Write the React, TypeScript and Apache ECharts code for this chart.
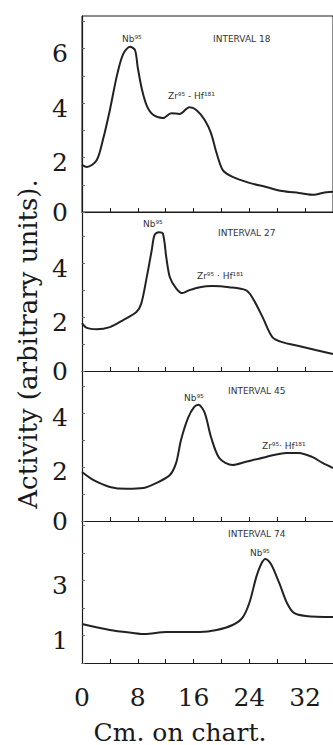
import React, { useEffect, useRef } from "react";
import * as echarts from "echarts";

// Cm. on chart vs activity (arbitrary units), one curve per counting interval
const interval18: number[][] = [
  [0, 1.73], [0.7, 1.65], [2.1, 1.9], [3, 2.65], [4, 3.75], [5, 5.0], [5.9, 5.8], [6.9, 6.07],
  [7.6, 5.95], [8, 5.3], [8.6, 4.5], [9.3, 3.9], [10.2, 3.57], [11.6, 3.45], [12.8, 3.63],
  [14, 3.6], [15.4, 3.85], [16.4, 3.75], [17.6, 3.38], [18.5, 2.9], [19.3, 2.17], [20.2, 1.54],
  [21.6, 1.29], [24, 1.07], [26.4, 0.92], [28.7, 0.77], [31.1, 0.7], [33.3, 0.63], [34.5, 0.7],
  [36, 0.74],
];
const interval27: number[][] = [
  [0, 1.78], [0.7, 1.6], [2.1, 1.55], [4, 1.63], [5.9, 1.89], [7.8, 2.19], [8.5, 2.5],
  [9.3, 3.5], [10, 4.48], [10.4, 5.04], [11, 5.15], [11.6, 5.1], [12.1, 4.2], [12.6, 3.48],
  [13.5, 3.07], [14.4, 2.89], [15.4, 3.0], [16.9, 3.11], [18.7, 3.15], [21.1, 3.11], [23.5, 3.0],
  [24.4, 2.74], [25.9, 2.0], [27.3, 1.26], [28.7, 1.07], [31.1, 0.93], [33.5, 0.78], [36, 0.63],
];
const interval45: number[][] = [
  [0, 1.81], [1.6, 1.52], [4, 1.26], [6.4, 1.19], [8.8, 1.22], [10.7, 1.41], [12.6, 1.7],
  [13.5, 2.15], [14.2, 3.0], [15.2, 3.81], [16.1, 4.22], [16.7, 4.3], [17.6, 4.0], [18.5, 3.11],
  [19.7, 2.33], [21.6, 2.07], [23.5, 2.19], [26.4, 2.37], [29.3, 2.52], [31.1, 2.52], [33, 2.37],
  [34.5, 2.15], [36, 1.96],
];
const interval74: number[][] = [
  [0, 1.42], [4, 1.2], [7.3, 1.09], [9, 1.05], [12.1, 1.13], [16.9, 1.13], [19.3, 1.2],
  [21.6, 1.38], [23, 1.64], [24, 2.18], [25, 3.13], [25.7, 3.6], [26.3, 3.78], [27.1, 3.6],
  [28.3, 2.9], [29.4, 2.18], [30.4, 1.82], [32.1, 1.71], [36, 1.67],
];

const xTickLabels = [0, 8, 16, 24, 32];
const yLabels18 = [0, 2, 4, 6];
const yLabels27 = [0, 2, 4];
const yLabels45 = [0, 2, 4];
const yLabels74 = [1, 3];
const yMax = [7.2, 5.9, 5.55, 5.16];

const panels = [
  { data: interval18, labels: yLabels18, top: 16, height: 196 },
  { data: interval27, labels: yLabels27, top: 212, height: 159 },
  { data: interval45, labels: yLabels45, top: 371, height: 150 },
  { data: interval74, labels: yLabels74, top: 521, height: 142 },
];

const notes = [
  { text: "Nb⁹⁵", x: 122, y: 34 },
  { text: "INTERVAL 18", x: 213, y: 34 },
  { text: "Zr⁹⁵ - Hf¹⁸¹", x: 168, y: 91 },
  { text: "Nb⁹⁵", x: 143, y: 219 },
  { text: "INTERVAL 27", x: 218, y: 228 },
  { text: "Zr⁹⁵ · Hf¹⁸¹", x: 197, y: 271 },
  { text: "Nb⁹⁵", x: 184, y: 393 },
  { text: "INTERVAL 45", x: 228, y: 386 },
  { text: "Zr⁹⁵· Hf¹⁸¹", x: 262, y: 441 },
  { text: "INTERVAL 74", x: 228, y: 529 },
  { text: "Nb⁹⁵", x: 250, y: 548 },
];

const SERIF = "'DejaVu Serif', 'Liberation Serif', serif";
const INK = "#1a1a1a";

export default function App() {
  const ref = useRef<HTMLDivElement>(null);
  useEffect(() => {
    if (!ref.current) return;
    const chart = echarts.init(ref.current, null, { renderer: "svg" });
    const grids = panels.map((p, i) => ({
      left: 82,
      top: p.top,
      width: 252,
      height: p.height,
      show: i === 0,
      borderColor: INK,
      borderWidth: 1,
    }));
    const xAxes = panels.map((p, i) => ({
      type: "value",
      gridIndex: i,
      min: 0,
      max: 36,
      interval: 4,
      axisLine: { show: true, onZero: false, lineStyle: { color: INK, width: 1.2 } },
      axisTick: { show: true, inside: true, length: 4, lineStyle: { color: INK } },
      splitLine: { show: false },
      axisLabel: {
        show: i === panels.length - 1,
        margin: 22,
        showMaxLabel: false,
        fontFamily: SERIF,
        fontSize: 25,
        color: INK,
        formatter: (v: number) => (xTickLabels.includes(v) ? String(v) : ""),
      },
    }));
    const yAxes = panels.map((p, i) => ({
      type: "value",
      gridIndex: i,
      min: 0,
      max: yMax[i],
      interval: 1,
      axisLine: { show: true, onZero: false, lineStyle: { color: INK, width: 1.2 } },
      axisTick: { show: true, inside: true, length: 3, lineStyle: { color: "#666" } },
      splitLine: { show: false },
      axisLabel: {
        margin: 14,
        showMaxLabel: false,
        formatter: (v: number) =>
          p.labels.includes(v) ? (v === 0 ? `{z|${v}}` : `{n|${v}}`) : "",
        rich: {
          z: { fontFamily: SERIF, fontSize: 25, color: INK },
          n: { fontFamily: SERIF, fontSize: 25, color: INK, padding: [10, 0, 0, 0] },
        },
      },
    }));
    const series = panels.map((p, i) => ({
      type: "line",
      xAxisIndex: i,
      yAxisIndex: i,
      data: p.data,
      smooth: 0.3,
      showSymbol: false,
      lineStyle: { color: "#222", width: 2 },
    }));
    const graphic: any[] = notes.map((n) => ({
      type: "text",
      x: n.x,
      y: n.y,
      style: { text: n.text, fill: "#333", font: "9px 'DejaVu Sans', sans-serif" },
    }));
    graphic.push({
      type: "text",
      x: 28,
      y: 344,
      rotation: Math.PI / 2,
      style: {
        text: "Activity (arbitrary units).",
        fill: INK,
        font: `26px ${SERIF}`,
        align: "center",
        verticalAlign: "middle",
      },
    });
    graphic.push({
      type: "text",
      x: 180,
      y: 732,
      style: {
        text: "Cm. on chart.",
        fill: INK,
        font: `25px ${SERIF}`,
        align: "center",
        verticalAlign: "middle",
      },
    });
    chart.setOption({
      animation: false,
      backgroundColor: "#ffffff",
      grid: grids,
      xAxis: xAxes,
      yAxis: yAxes,
      series,
      graphic,
    });
    return () => chart.dispose();
  }, []);
  return (
    <div
      ref={ref}
      style={{ position: "fixed", left: 0, top: 0, width: 333, height: 745 }}
    />
  );
}
